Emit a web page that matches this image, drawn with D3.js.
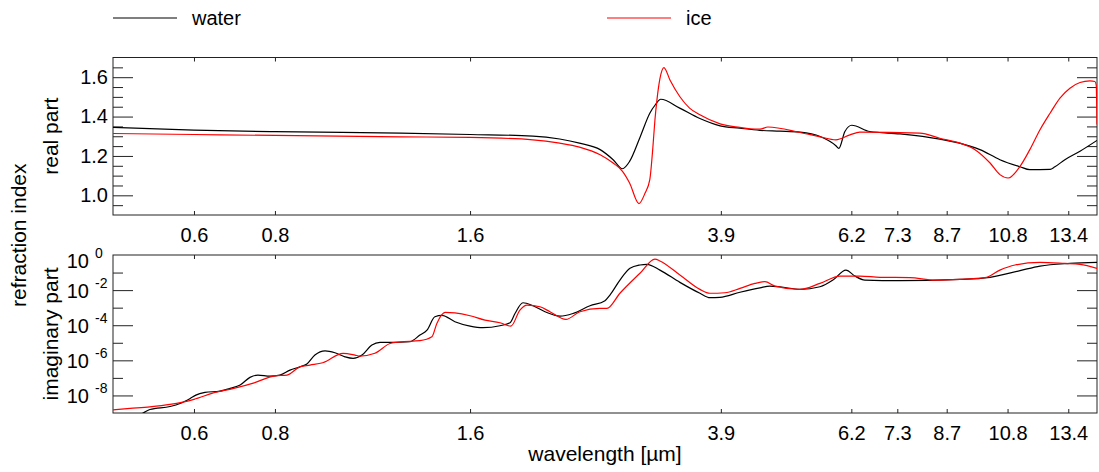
<!DOCTYPE html>
<html>
<head>
<meta charset="utf-8">
<script src="https://cdn.jsdelivr.net/npm/d3@7"></script>
<style>
  body { margin: 0; background: #fff; }
  svg { display: block; font-family: "Liberation Sans", Arial, Helvetica, sans-serif; }
</style>
</head>
<body>
<div id="chart"></div>
<script>
// wavelength tick labels (um)
var xTicks = [0.6, 0.8, 1.6, 3.9, 6.2, 7.3, 8.7, 10.8, 13.4];

// real part axis ticks
var reMajor = [1.0, 1.2, 1.4, 1.6];
var reMinor = [0.95, 1.05, 1.1, 1.15, 1.25, 1.3, 1.35, 1.45, 1.5, 1.55, 1.65];

// imaginary part axis ticks (powers of ten)
var imLabelExp = [0, -2, -4, -6, -8];
var imMajorExp = [-2, -4, -6, -8];
var imMinorExp = [-1, -3, -5, -7];

// real part: [wavelength, n]
var waterReal = [[0.45,1.345],[0.60,1.331],[0.80,1.323],[1.25,1.316],[1.60,1.309],[2.00,1.301],[2.20,1.286],
  [2.36,1.265],[2.54,1.232],[2.66,1.181],[2.75,1.135],[2.82,1.172],[2.93,1.299],[3.03,1.417],[3.09,1.460],
  [3.15,1.488],[3.37,1.443],[3.62,1.390],[3.89,1.353],[4.17,1.341],[4.48,1.330],[4.81,1.326],[5.17,1.321],
  [5.55,1.299],[5.87,1.252],[5.93,1.238],[6.06,1.324],[6.21,1.356],[6.62,1.324],[7.37,1.312],[8.49,1.285],
  [9.45,1.250],[9.79,1.232],[10.51,1.181],[11.29,1.145],[11.69,1.130],[12.56,1.132],[12.78,1.145],
  [13.24,1.181],[13.97,1.224],[14.84,1.279]];

var iceReal = [[0.45,1.314],[0.60,1.309],[0.80,1.304],[1.25,1.297],[1.60,1.294],[2.00,1.282],[2.20,1.265],
  [2.36,1.245],[2.54,1.206],[2.66,1.164],[2.75,1.122],[2.82,1.063],[2.915,0.958],[2.98,1.012],[3.03,1.080],
  [3.064,1.248],[3.086,1.384],[3.108,1.485],[3.14,1.590],[3.186,1.649],[3.255,1.586],[3.37,1.502],[3.49,1.443],
  [3.62,1.409],[3.89,1.363],[4.17,1.345],[4.33,1.338],[4.48,1.336],[4.61,1.347],[5.17,1.319],[5.55,1.297],
  [5.87,1.282],[6.17,1.307],[6.39,1.321],[7.91,1.316],[8.49,1.290],[9.12,1.265],[9.62,1.232],[10.15,1.164],
  [10.51,1.105],[10.82,1.088],[11.29,1.147],[11.69,1.232],[12.12,1.333],[12.56,1.417],[13.01,1.494],
  [13.48,1.544],[13.97,1.573],[14.47,1.581],[14.73,1.578],[14.80,1.560],[14.84,1.360]];

// imaginary part: [wavelength, log10(k)]
var waterImag = [[0.45,-9.6],[0.501,-9.0],[0.513,-8.80],[0.551,-8.63],[0.571,-8.46],[0.592,-8.17],[0.604,-7.98],
  [0.624,-7.83],[0.658,-7.75],[0.682,-7.60],[0.707,-7.41],[0.732,-6.97],[0.753,-6.84],[0.786,-6.90],[0.814,-6.84],
  [0.844,-6.56],[0.874,-6.37],[0.896,-6.21],[0.922,-5.70],[0.956,-5.46],[0.990,-5.57],[1.026,-5.80],[1.056,-5.89],
  [1.090,-5.70],[1.129,-5.13],[1.162,-4.98],[1.247,-4.97],[1.292,-4.94],[1.339,-4.56],[1.373,-4.28],[1.412,-3.52],
  [1.448,-3.44],[1.516,-3.80],[1.60,-4.05],[1.675,-4.14],[1.779,-4.03],[1.844,-3.86],[1.877,-3.33],[1.931,-2.72],
  [2.001,-2.89],[2.088,-3.23],[2.202,-3.48],[2.306,-3.33],[2.450,-2.89],[2.584,-2.60],[2.630,-2.28],[2.725,-1.43],
  [2.824,-0.76],[2.926,-0.57],[2.999,-0.53],[3.141,-0.86],[3.372,-1.56],[3.621,-2.18],[3.752,-2.43],[3.887,-2.41],
  [4.174,-2.12],[4.481,-1.87],[4.643,-1.77],[4.811,-1.81],[5.166,-1.96],[5.546,-1.81],[5.808,-1.43],[6.082,-0.86],
  [6.280,-1.20],[6.507,-1.43],[7.369,-1.46],[9.119,-1.39],[10.145,-1.27],[11.29,-0.89],[12.12,-0.63],
  [13.48,-0.48],[14.84,-0.42]];

var iceImag = [[0.45,-8.82],[0.478,-8.74],[0.513,-8.65],[0.551,-8.51],[0.600,-8.22],[0.641,-7.87],[0.691,-7.60],
  [0.743,-7.28],[0.800,-6.88],[0.835,-6.84],[0.874,-6.37],[0.906,-6.27],[0.948,-6.14],[1.019,-5.60],[1.063,-5.70],
  [1.082,-5.76],[1.141,-5.60],[1.204,-5.04],[1.247,-4.95],[1.339,-4.88],[1.397,-4.66],[1.422,-3.90],[1.464,-3.27],
  [1.516,-3.30],[1.60,-3.46],[1.687,-3.71],[1.779,-3.86],[1.850,-4.05],[1.910,-3.14],[1.959,-2.85],[2.051,-2.95],
  [2.125,-3.23],[2.249,-3.67],[2.364,-3.23],[2.538,-3.04],[2.602,-3.04],[2.725,-2.18],[2.926,-1.04],[3.086,-0.23],
  [3.141,-0.34],[3.372,-1.14],[3.621,-1.96],[3.752,-2.18],[3.957,-2.15],[4.174,-1.90],[4.402,-1.62],[4.561,-1.52],
  [4.727,-1.77],[5.166,-1.96],[5.546,-1.62],[5.954,-1.20],[6.392,-1.20],[6.863,-1.27],[7.635,-1.29],[8.344,-1.43],
  [9.119,-1.39],[9.967,-1.29],[10.51,-0.86],[11.09,-0.57],[12.12,-0.42],[13.24,-0.48],[13.97,-0.53],[14.84,-0.76]];

var series = [
  {name: "water", color: "#000000", re: waterReal, im: waterImag},
  {name: "ice",   color: "#ff0000", re: iceReal,   im: iceImag}
];

var w = 1099, h = 472;
var left = 113, right = 1097;
var reTop = 57.5, reBottom = 215;
var imTop = 255, imBottom = 413;

var svg = d3.select("#chart").append("svg")
  .attr("width", w).attr("height", h);

var x = d3.scaleLog().domain([0.45, 14.84]).range([left, right]);
var yRe = d3.scaleLinear().domain([0.9, 1.7]).range([reBottom, reTop]);
var yIm = d3.scaleLog().domain([1e-9, 1]).range([imBottom, imTop]);

function tidy(sel) {
  sel.attr("font-family", null).attr("font-size", 20);
  sel.select(".domain").remove();
  sel.selectAll("line").attr("stroke", "#222");
  sel.selectAll("text").attr("fill", "#000");
}

function drawPanel(y, top, bottom, major, minor, fmt, clipId) {
  var g = svg.append("g");

  g.append("clipPath").attr("id", clipId)
    .append("rect").attr("x", left).attr("y", top)
    .attr("width", right - left).attr("height", bottom - top);

  // x ticks, bottom with labels, top without
  g.append("g").attr("transform", "translate(0," + bottom + ")")
    .call(d3.axisBottom(x).tickValues(xTicks).tickSize(-4).tickPadding(13).tickFormat(d3.format(".1f")))
    .call(tidy);
  g.append("g").attr("transform", "translate(0," + top + ")")
    .call(d3.axisTop(x).tickValues(xTicks).tickSize(-4).tickFormat(""))
    .call(tidy);

  // y ticks both sides
  g.append("g").attr("transform", "translate(" + left + ",0)")
    .call(d3.axisLeft(y).tickValues(major).tickSize(-20).tickPadding(5).tickFormat(fmt))
    .call(tidy);
  g.append("g").attr("transform", "translate(" + left + ",0)")
    .call(d3.axisLeft(y).tickValues(minor).tickSize(-10).tickFormat(""))
    .call(tidy);
  g.append("g").attr("transform", "translate(" + right + ",0)")
    .call(d3.axisRight(y).tickValues(major).tickSize(-20).tickFormat(""))
    .call(tidy);
  g.append("g").attr("transform", "translate(" + right + ",0)")
    .call(d3.axisRight(y).tickValues(minor).tickSize(-10).tickFormat(""))
    .call(tidy);

  g.append("rect")
    .attr("x", left).attr("y", top)
    .attr("width", right - left).attr("height", bottom - top)
    .attr("fill", "none").attr("stroke", "#222").attr("stroke-width", 1);

  return g;
}

// real part panel
var gRe = drawPanel(yRe, reTop, reBottom, reMajor, reMinor, d3.format(".1f"), "clipRe");
var lineRe = d3.line()
  .x(function(d) { return x(d[0]); })
  .y(function(d) { return yRe(d[1]); })
  .curve(d3.curveMonotoneX);
gRe.append("g").attr("clip-path", "url(#clipRe)")
  .selectAll("path").data(series).enter().append("path")
  .attr("d", function(d) { return lineRe(d.re); })
  .attr("fill", "none")
  .attr("stroke", function(d) { return d.color; })
  .attr("stroke-width", 1.2);

// imaginary part panel
var gIm = drawPanel(yIm,  imTop, imBottom,
  imMajorExp.map(function(e) { return Math.pow(10, e); }),
  imMinorExp.map(function(e) { return Math.pow(10, e); }),
  function() { return ""; }, "clipIm");

var lineIm = d3.line()
  .x(function(d) { return x(d[0]); })
  .y(function(d) { return yIm(Math.pow(10, d[1])); })
  .curve(d3.curveMonotoneX);
gIm.append("g").attr("clip-path", "url(#clipIm)")
  .selectAll("path").data(series).enter().append("path")
  .attr("d", function(d) { return lineIm(d.im); })
  .attr("fill", "none")
  .attr("stroke", function(d) { return d.color; })
  .attr("stroke-width", 1.2);

// 10^n labels
var powLabels = gIm.append("g").selectAll("g").data(imLabelExp).enter().append("g");
powLabels.append("text")
  .attr("x", left - 24)
  .attr("y", function(e) { return Math.max(yIm(Math.pow(10, e)) + 8, imTop + 13); })
  .attr("text-anchor", "end")
  .attr("font-size", 20)
  .text("10");
powLabels.append("text")
  .attr("x", left - 18)
  .attr("y", function(e) { return Math.max(yIm(Math.pow(10, e)) + 8, imTop + 13) - 10; })
  .attr("font-size", 14)
  .text(function(e) { return String(e); });

// axis titles
svg.append("text").attr("transform", "translate(58," + (reTop + reBottom) / 2 + ") rotate(-90)")
  .attr("text-anchor", "middle").attr("font-size", 21).text("real part");
svg.append("text").attr("transform", "translate(58," + (imTop + imBottom) / 2 + ") rotate(-90)")
  .attr("text-anchor", "middle").attr("font-size", 21).text("imaginary part");
svg.append("text").attr("transform", "translate(26," + (reTop + imBottom) / 2 + ") rotate(-90)")
  .attr("text-anchor", "middle").attr("font-size", 21).text("refraction index");
svg.append("text").attr("x", (left + right) / 2).attr("y", 461)
  .attr("text-anchor", "middle").attr("font-size", 21).text("wavelength [µm]");

// legend
var legend = svg.append("g").selectAll("g").data(series).enter().append("g")
  .attr("transform", function(d, i) { return "translate(" + (left + i * 494) + ",18)"; });
legend.append("line")
  .attr("x1", 0).attr("x2", 64).attr("y1", 0).attr("y2", 0)
  .attr("stroke", function(d) { return d.color; }).attr("stroke-width", 1.2);
legend.append("text")
  .attr("x", 79).attr("y", 7).attr("font-size", 20)
  .text(function(d) { return d.name; });
</script>
</body>
</html>
